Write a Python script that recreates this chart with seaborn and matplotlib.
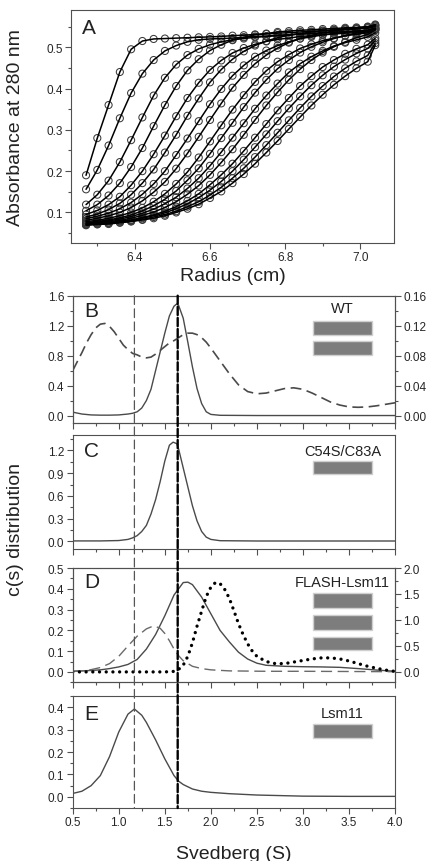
import numpy as np
import pandas as pd
import seaborn as sns
import matplotlib.pyplot as plt
from matplotlib.patches import ConnectionPatch, Rectangle
from matplotlib.ticker import MultipleLocator

# ---- panel A : radial absorbance scans (cm, A280) ----
radius = [6.27, 6.30, 6.33, 6.36, 6.39, 6.42, 6.45, 6.48, 6.51, 6.54, 6.57, 6.60, 6.63, 6.66,
          6.69, 6.72, 6.75, 6.78, 6.81, 6.84, 6.87, 6.90, 6.93, 6.96, 6.99, 7.02, 7.04]
scan01 = [0.19, 0.28, 0.36, 0.44, 0.495, 0.515, 0.52, 0.521, 0.522, 0.523, 0.524, 0.525, 0.526, 0.528,
          0.529, 0.531, 0.532, 0.534, 0.535, 0.537, 0.538, 0.54, 0.541, 0.543, 0.544, 0.546, 0.55]
scan02 = [0.156, 0.203, 0.262, 0.328, 0.389, 0.436, 0.469, 0.491, 0.504, 0.513, 0.518, 0.52, 0.521, 0.522,
          0.524, 0.526, 0.527, 0.529, 0.53, 0.532, 0.533, 0.535, 0.536, 0.538, 0.539, 0.541, 0.545]
scan03 = [0.119, 0.143, 0.177, 0.222, 0.275, 0.330, 0.383, 0.426, 0.458, 0.481, 0.496, 0.506, 0.513, 0.518,
          0.521, 0.524, 0.526, 0.528, 0.53, 0.532, 0.533, 0.535, 0.536, 0.538, 0.539, 0.541, 0.545]
scan04 = [0.104, 0.119, 0.141, 0.171, 0.210, 0.256, 0.309, 0.360, 0.406, 0.444, 0.471, 0.492, 0.506, 0.517,
          0.524, 0.530, 0.533, 0.537, 0.539, 0.541, 0.542, 0.544, 0.545, 0.547, 0.548, 0.55, 0.553]
scan05 = [0.095, 0.105, 0.119, 0.138, 0.166, 0.200, 0.241, 0.286, 0.333, 0.377, 0.414, 0.445, 0.468, 0.486,
          0.498, 0.507, 0.514, 0.519, 0.522, 0.526, 0.528, 0.53, 0.532, 0.534, 0.535, 0.537, 0.542]
scan06 = [0.089, 0.096, 0.107, 0.122, 0.143, 0.171, 0.204, 0.245, 0.288, 0.334, 0.376, 0.415, 0.446, 0.471,
          0.490, 0.504, 0.515, 0.523, 0.529, 0.533, 0.537, 0.54, 0.542, 0.545, 0.546, 0.548, 0.553]
scan07 = [0.085, 0.091, 0.098, 0.109, 0.124, 0.144, 0.169, 0.200, 0.239, 0.279, 0.321, 0.362, 0.399, 0.431,
          0.456, 0.477, 0.492, 0.504, 0.513, 0.521, 0.525, 0.53, 0.533, 0.536, 0.538, 0.54, 0.546]
scan08 = [0.081, 0.086, 0.092, 0.100, 0.112, 0.128, 0.149, 0.174, 0.206, 0.243, 0.283, 0.324, 0.364, 0.402,
          0.433, 0.460, 0.481, 0.498, 0.511, 0.521, 0.528, 0.535, 0.539, 0.543, 0.546, 0.549, 0.555]
scan09 = [0.078, 0.081, 0.086, 0.092, 0.100, 0.111, 0.126, 0.145, 0.169, 0.198, 0.233, 0.272, 0.311, 0.349,
          0.384, 0.416, 0.443, 0.465, 0.482, 0.497, 0.507, 0.516, 0.522, 0.528, 0.531, 0.535, 0.542]
scan10 = [0.076, 0.078, 0.082, 0.087, 0.094, 0.104, 0.116, 0.132, 0.152, 0.178, 0.207, 0.242, 0.280, 0.317,
          0.355, 0.390, 0.421, 0.448, 0.469, 0.487, 0.501, 0.512, 0.521, 0.528, 0.534, 0.539, 0.547]
scan11 = [0.074, 0.077, 0.080, 0.084, 0.090, 0.098, 0.108, 0.121, 0.137, 0.158, 0.183, 0.213, 0.246, 0.281,
          0.316, 0.351, 0.383, 0.412, 0.439, 0.460, 0.477, 0.491, 0.503, 0.511, 0.518, 0.525, 0.535]
scan12 = [0.073, 0.075, 0.078, 0.081, 0.086, 0.093, 0.101, 0.112, 0.126, 0.144, 0.165, 0.191, 0.221, 0.253,
          0.288, 0.324, 0.359, 0.391, 0.421, 0.447, 0.469, 0.487, 0.501, 0.513, 0.523, 0.531, 0.542]
scan13 = [0.071, 0.073, 0.075, 0.079, 0.082, 0.088, 0.094, 0.103, 0.114, 0.128, 0.145, 0.167, 0.191, 0.218,
          0.249, 0.281, 0.314, 0.347, 0.377, 0.406, 0.430, 0.452, 0.469, 0.484, 0.496, 0.506, 0.522]
scan14 = [0.071, 0.073, 0.075, 0.078, 0.081, 0.086, 0.092, 0.099, 0.109, 0.121, 0.136, 0.154, 0.175, 0.200,
          0.228, 0.258, 0.289, 0.321, 0.352, 0.381, 0.408, 0.432, 0.453, 0.470, 0.485, 0.497, 0.516]
scan15 = [0.070, 0.072, 0.074, 0.076, 0.079, 0.083, 0.089, 0.095, 0.103, 0.114, 0.126, 0.142, 0.161, 0.183,
          0.207, 0.234, 0.263, 0.293, 0.323, 0.353, 0.381, 0.406, 0.429, 0.449, 0.466, 0.480, 0.51]
scan16 = [0.069, 0.071, 0.072, 0.075, 0.078, 0.082, 0.086, 0.092, 0.100, 0.109, 0.120, 0.135, 0.151, 0.171,
          0.193, 0.218, 0.245, 0.273, 0.302, 0.331, 0.359, 0.385, 0.409, 0.430, 0.449, 0.465, 0.505]
scans = [scan01, scan02, scan03, scan04, scan05, scan06, scan07, scan08,
         scan09, scan10, scan11, scan12, scan13, scan14, scan15, scan16]

# ---- panel B : WT ----
wt_s = [0.5, 0.6, 0.7, 0.8, 0.9, 1.0, 1.1, 1.15, 1.2, 1.25, 1.3, 1.35, 1.4, 1.45, 1.5, 1.55, 1.6, 1.63,
        1.65, 1.7, 1.75, 1.8, 1.85, 1.9, 1.95, 2.0, 2.1, 2.5, 4.0]
wt_c = [0.045, 0.02, 0.008, 0.005, 0.005, 0.008, 0.02, 0.03, 0.05, 0.1, 0.2, 0.35, 0.6, 0.85, 1.1, 1.33,
        1.46, 1.49, 1.47, 1.3, 0.98, 0.65, 0.36, 0.16, 0.05, 0.015, 0.003, 0.0, 0.0]
wt_hi_s = [0.5, 0.55, 0.6, 0.65, 0.7, 0.75, 0.8, 0.85, 0.9, 0.95, 1.0, 1.05, 1.1, 1.15, 1.2, 1.25, 1.3,
           1.35, 1.4, 1.45, 1.5, 1.55, 1.6, 1.65, 1.7, 1.75, 1.8, 1.85, 1.9, 1.95, 2.0, 2.1, 2.2, 2.3,
           2.4, 2.5, 2.6, 2.7, 2.8, 2.9, 3.0, 3.1, 3.2, 3.3, 3.4, 3.5, 3.6, 3.7, 3.8, 3.9, 4.0]
wt_hi_c = [.060, .072, .084, .097, .108, .117, .122, .123, .119, .112, .103, .094, .088, .083, .081, .078,
           .077, .078, .082, .087, .092, .097, .100, .104, .108, .110, .110, .108, .104, .098, .090, .073,
           .056, .041, .032, .029, .030, .033, .036, .037, .035, .030, .024, .018, .014, .0115, .011,
           .0115, .013, .015, .017]

# ---- panel C : C54S/C83A ----
c54_s = [0.5, 0.8, 1.0, 1.1, 1.15, 1.2, 1.25, 1.3, 1.35, 1.4, 1.45, 1.5, 1.55, 1.59, 1.63, 1.65, 1.7,
         1.75, 1.8, 1.85, 1.9, 1.95, 2.0, 2.1, 2.5, 4.0]
c54_c = [0.005, 0.005, 0.01, 0.025, 0.045, 0.075, 0.13, 0.21, 0.36, 0.55, 0.79, 1.06, 1.27, 1.31, 1.29,
         1.22, 0.97, 0.72, 0.47, 0.27, 0.13, 0.055, 0.025, 0.008, 0.004, 0.004]

# ---- panel D : FLASH-Lsm11 ----
fl_s = [0.5, 0.6, 0.7, 0.8, 0.9, 1.0, 1.1, 1.2, 1.3, 1.4, 1.5, 1.6, 1.7, 1.75, 1.8, 1.9, 2.0, 2.1, 2.2,
        2.3, 2.4, 2.5, 2.6, 2.8, 3.0, 3.2, 3.4, 3.6, 3.8, 4.0]
fl_c = [0.004, 0.005, 0.007, 0.01, 0.016, 0.024, 0.036, 0.06, 0.11, 0.18, 0.27, 0.37, 0.43, 0.432, 0.42,
        0.36, 0.28, 0.2, 0.145, 0.095, 0.062, 0.042, 0.032, 0.027, 0.025, 0.024, 0.022, 0.016, 0.009, 0.003]
fl_lo_s = [0.5, 0.6, 0.7, 0.8, 0.9, 1.0, 1.1, 1.2, 1.3, 1.38, 1.45, 1.5, 1.55, 1.6, 1.65, 1.7, 1.8, 1.9,
           2.0, 2.2, 2.6, 3.0, 3.5, 4.0]
fl_lo_c = [0.002, 0.005, 0.011, 0.021, 0.04, 0.075, 0.125, 0.172, 0.207, 0.222, 0.21, 0.185, 0.15, 0.11,
           0.078, 0.054, 0.027, 0.016, 0.01, 0.005, 0.003, 0.003, 0.002, 0.001]
fl_hi_s = [0.5, 1.0, 1.5, 1.6, 1.65, 1.7, 1.75, 1.8, 1.85, 1.9, 1.95, 2.0, 2.05, 2.1, 2.15, 2.2, 2.25,
           2.3, 2.35, 2.4, 2.45, 2.5, 2.6, 2.7, 2.8, 2.9, 3.0, 3.1, 3.2, 3.3, 3.4, 3.5, 3.6, 3.7, 3.8,
           3.9, 4.0]
fl_hi_c = [0.0, 0.0, 0.0, 0.01, 0.05, 0.13, 0.3, 0.56, 0.88, 1.17, 1.45, 1.63, 1.72, 1.7, 1.59, 1.42,
           1.18, 0.93, 0.72, 0.54, 0.4, 0.3, 0.2, 0.16, 0.16, 0.19, 0.22, 0.25, 0.27, 0.27, 0.25, 0.21,
           0.16, 0.11, 0.07, 0.035, 0.01]

# ---- panel E : Lsm11 ----
lsm_s = [0.5, 0.6, 0.7, 0.8, 0.9, 1.0, 1.1, 1.17, 1.25, 1.3, 1.4, 1.5, 1.6, 1.65, 1.7, 1.8, 1.9, 2.0,
         2.2, 2.5, 3.0, 3.5, 4.0]
lsm_c = [0.015, 0.025, 0.05, 0.095, 0.18, 0.29, 0.37, 0.393, 0.365, 0.333, 0.255, 0.17, 0.095, 0.07,
         0.055, 0.035, 0.025, 0.02, 0.014, 0.008, 0.003, 0.002, 0.002]

# reference sedimentation coefficients (vertical guides)
s_lsm11 = 1.17
s_wt = 1.64

sns.set_theme(style='ticks')
plt.rcParams['font.family'] = ['Liberation Sans', 'DejaVu Sans']
plt.rcParams['axes.edgecolor'] = '#505050'
plt.rcParams['axes.linewidth'] = 0.8

EDGE = '#505050'
TICK_FS = 8.5

fig = plt.figure(figsize=(4.32, 8.62), dpi=100)


def style_axis(ax, xmajor, xminor, ymajor, yminor, xlabels=True):
    ax.xaxis.set_major_locator(MultipleLocator(xmajor))
    ax.xaxis.set_minor_locator(MultipleLocator(xminor))
    ax.yaxis.set_major_locator(MultipleLocator(ymajor))
    ax.yaxis.set_minor_locator(MultipleLocator(yminor))
    ax.tick_params(which='both', direction='out', color=EDGE, width=0.8,
                   labelsize=TICK_FS, pad=2, top=False, right=False)
    ax.tick_params(which='major', length=4)
    ax.tick_params(which='minor', length=2.5)
    if not xlabels:
        ax.tick_params(axis='x', labelbottom=False)
    ax.set_xlabel('')
    ax.set_ylabel('')
    for sp in ax.spines.values():
        sp.set_visible(True)
        sp.set_color(EDGE)


def style_twin(ax, ymajor, yminor):
    ax.yaxis.set_major_locator(MultipleLocator(ymajor))
    ax.yaxis.set_minor_locator(MultipleLocator(yminor))
    ax.tick_params(which='both', direction='out', color=EDGE, width=0.8,
                   labelsize=TICK_FS, pad=2)
    ax.tick_params(which='major', length=4)
    ax.tick_params(which='minor', length=2.5)
    ax.set_ylabel('')


def add_bars(ax, tops, label, label_y):
    for top, bot in tops:
        ax.add_patch(Rectangle((3.106, bot), 0.64, top - bot,
                               transform=ax.get_xaxis_transform(),
                               facecolor='#7d7d7d', edgecolor='#cfcfcf', lw=1.0, zorder=3))
    ax.text(3.43, label_y, label, transform=ax.get_xaxis_transform(),
            ha='center', va='center', fontsize=10.5, color='#222222')


def panel_letter(ax, letter, y):
    ax.text(0.035, y, letter, transform=ax.transAxes, ha='left', va='center',
            fontsize=15, color='#222222')


# ---------------- panel A ----------------
axA = fig.add_axes([0.1644, 0.7169, 0.7477, 0.2703])
df_scan = pd.DataFrame({
    'radius': np.tile(radius, len(scans)),
    'absorbance': np.concatenate(scans),
    'scan': np.repeat(np.arange(len(scans)), len(radius)),
})
sns.scatterplot(data=df_scan, x='radius', y='absorbance', ax=axA, marker='o', s=26,
                color='#3a3a3a', facecolor='none', edgecolor='#3a3a3a', linewidth=0.75,
                legend=False, zorder=2)
sns.lineplot(data=df_scan, x='radius', y='absorbance', units='scan', estimator=None,
             ax=axA, color='black', lw=1.1, legend=False, zorder=3)
axA.set_xlim(6.23, 7.09)
axA.set_ylim(0.026, 0.59)
style_axis(axA, 0.2, 0.1, 0.1, 0.05)
panel_letter(axA, 'A', 0.925)
fig.text(16 / 432, 1 - 128 / 862, 'Absorbance at 280 nm', rotation=90,
         ha='center', va='center', fontsize=14, color='#222222')
fig.text(0.538, 0.6787, 'Radius (cm)', ha='center', va='center', fontsize=14, color='#222222')

# ---------------- panels B-E ----------------
rect_x, rect_w = 0.1683, 0.7461
axB = fig.add_axes([rect_x, 0.5081, rect_w, 0.1477])
axC = fig.add_axes([rect_x, 0.3621, rect_w, 0.1317])
axD = fig.add_axes([rect_x, 0.2073, rect_w, 0.1326])
axE = fig.add_axes([rect_x, 0.0615, rect_w, 0.1296])

# B
sns.lineplot(x=wt_s, y=wt_c, ax=axB, color='#4a4a4a', lw=1.0)
axB2 = axB.twinx()
sns.lineplot(x=wt_hi_s, y=wt_hi_c, ax=axB2, color='#4a4a4a', lw=1.2,
             linestyle=(0, (6.5, 3.3)))
axB.set_ylim(-0.1, 1.6)
axB2.set_ylim(-0.01, 0.16)
style_axis(axB, 0.5, 0.25, 0.4, 0.2, xlabels=False)
style_twin(axB2, 0.04, 0.02)
panel_letter(axB, 'B', 0.882)
add_bars(axB, [(0.804, 0.691), (0.646, 0.534)], 'WT', 0.903)

# C
sns.lineplot(x=c54_s, y=c54_c, ax=axC, color='#4a4a4a', lw=1.0)
axC.set_ylim(-0.1, 1.4)
style_axis(axC, 0.5, 0.25, 0.3, 0.15, xlabels=False)
panel_letter(axC, 'C', 0.865)
add_bars(axC, [(0.777, 0.66)], 'C54S/C83A', 0.865)

# D
sns.lineplot(x=fl_s, y=fl_c, ax=axD, color='#4a4a4a', lw=1.0)
sns.lineplot(x=fl_lo_s, y=fl_lo_c, ax=axD, color='#6a6a6a', lw=1.0,
             linestyle=(0, (8, 4)))
axD2 = axD.twinx()
sns.lineplot(x=fl_hi_s, y=fl_hi_c, ax=axD2, color='black', lw=2.4,
             linestyle=(0, (0.01, 2.0)), dash_capstyle='round')
axD.set_ylim(-0.05, 0.5)
axD2.set_ylim(-0.2, 2.0)
style_axis(axD, 0.5, 0.25, 0.1, 0.05, xlabels=False)
style_twin(axD2, 0.5, 0.25)
panel_letter(axD, 'D', 0.884)
add_bars(axD, [(0.779, 0.65), (0.589, 0.46), (0.394, 0.283)], 'FLASH-Lsm11', 0.875)

# E
sns.lineplot(x=lsm_s, y=lsm_c, ax=axE, color='#4a4a4a', lw=1.0)
axE.set_ylim(-0.05, 0.45)
style_axis(axE, 0.5, 0.25, 0.1, 0.05)
panel_letter(axE, 'E', 0.85)
add_bars(axE, [(0.752, 0.624)], 'Lsm11', 0.854)

for ax in (axB, axC, axD, axE):
    ax.set_xlim(0.5, 4.0)

fig.text(16 / 432, 1 - 530 / 862, 'c(s) distribution', rotation=90,
         ha='center', va='center', fontsize=14, color='#222222')
fig.text(0.541, 1 - 846 / 862, 'Svedberg (S)', ha='center', va='top',
         fontsize=14, color='#222222')

# vertical guide lines running through panels B-E
for s_val, col, lw, ls in [(s_lsm11, '#555555', 0.9, (0, (7, 3.5))),
                           (s_wt, 'black', 1.7, (0, (3.5, 1.2)))]:
    con = ConnectionPatch(xyA=(s_val, 1), coordsA=axB.get_xaxis_transform(),
                          xyB=(s_val, 0), coordsB=axE.get_xaxis_transform(),
                          color=col, lw=lw, linestyle=ls, shrinkA=0, shrinkB=0, zorder=5)
    fig.add_artist(con)

fig.savefig('out.png', dpi=100)
